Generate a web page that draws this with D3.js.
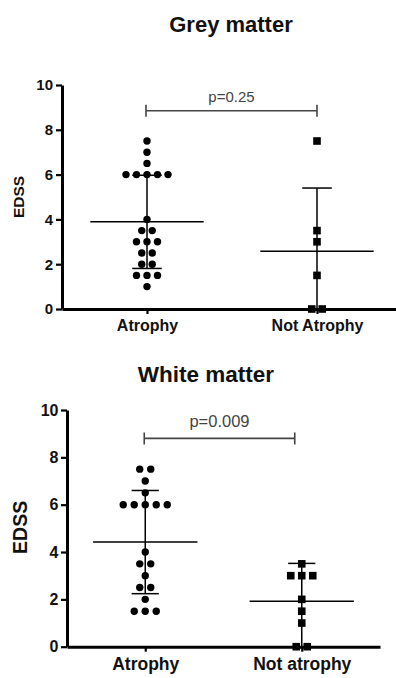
<!DOCTYPE html>
<html>
<head>
<meta charset="utf-8">
<script src="https://cdn.jsdelivr.net/npm/d3@7"></script>
<style>
  body { margin: 0; background: #fff; }
  svg { display: block; }
</style>
</head>
<body>
<div id="chart"></div>
<script>
// categories
const greyGroups = ['Atrophy', 'Not Atrophy'];
const whiteGroups = ['Atrophy', 'Not atrophy'];
const yTicks = [0, 2, 4, 6, 8, 10];

// EDSS values per patient
const greyAtrophy = [7.5, 7, 6.5, 6, 6, 6, 6, 6, 4, 3.5, 3.5, 3, 3, 3, 2.5, 2.5, 2, 2, 1.5, 1.5, 1.5, 1];
const greyNotAtrophy = [7.5, 3.5, 3, 1.5, 0, 0];
const whiteAtrophy = [7.5, 7.5, 7, 6.5, 6, 6, 6, 6, 6, 4, 3.5, 3.5, 3, 2.5, 2.5, 2, 1.5, 1.5, 1.5];
const whiteNotAtrophy = [3.5, 3, 3, 3, 2, 1.5, 1, 0, 0];

// mean and error bar ends
const greyMean = [3.89, 2.58];
const greyLow = [1.81, 0];
const greyHigh = [5.97, 5.4];
const whiteMean = [4.42, 1.92];
const whiteLow = [2.24, 0];
const whiteHigh = [6.6, 3.52];

// significance brackets
const greyP = 'p=0.25';
const whiteP = 'p=0.009';
const greyBracket = 8.85;
const whiteBracket = 8.8;

const W = 396, H = 678;
const svg = d3.select('#chart').append('svg')
  .attr('width', W)
  .attr('height', H)
  .style('font-family', '"Liberation Sans", Arial, sans-serif');

function drawPanel(cfg) {
  const g = svg.append('g');

  const x = d3.scalePoint().domain(cfg.groups).range(cfg.xRange).padding(0.5);
  const y = d3.scaleLinear().domain([0, 10]).range(cfg.yRange);
  const step = x.step();

  // title
  g.append('text')
    .attr('x', cfg.titleX)
    .attr('y', cfg.titleY)
    .attr('text-anchor', 'middle')
    .attr('font-size', cfg.titleSize)
    .attr('font-weight', 'bold')
    .attr('fill', '#111')
    .text(cfg.title);

  // y axis
  const yAxis = g.append('g')
    .attr('transform', `translate(${cfg.xRange[0]},0)`)
    .call(d3.axisLeft(y).tickValues(yTicks).tickSize(6).tickSizeOuter(0).tickPadding(cfg.yPad));
  yAxis.select('.domain').attr('stroke', '#000').attr('stroke-width', 3);
  yAxis.selectAll('.tick line').attr('stroke', '#000').attr('stroke-width', 2.2);
  yAxis.selectAll('.tick text')
    .attr('font-family', '"Liberation Sans", Arial, sans-serif')
    .attr('font-size', cfg.tickSize)
    .attr('font-weight', 'bold')
    .attr('fill', '#111');

  // x axis
  const xAxis = g.append('g')
    .attr('transform', `translate(0,${cfg.yRange[0]})`)
    .call(d3.axisBottom(x).tickSize(5).tickSizeOuter(0).tickPadding(6));
  xAxis.select('.domain').attr('stroke', '#000').attr('stroke-width', 3);
  xAxis.selectAll('.tick line').attr('stroke', '#000').attr('stroke-width', 2.2);
  xAxis.selectAll('.tick text')
    .attr('font-family', '"Liberation Sans", Arial, sans-serif')
    .attr('font-size', cfg.xLabelSize)
    .attr('font-weight', 'bold')
    .attr('fill', '#111');

  // y label
  g.append('text')
    .attr('transform', `translate(${cfg.yLabelX},${(cfg.yRange[0] + cfg.yRange[1]) / 2 + cfg.yLabelShift}) rotate(-90)`)
    .attr('text-anchor', 'middle')
    .attr('font-size', cfg.yLabelSize)
    .attr('font-weight', 'bold')
    .attr('fill', '#111')
    .text('EDSS');

  // error bars + mean lines
  cfg.groups.forEach((grp, i) => {
    const cx = x(grp);
    const lo = Math.max(0, cfg.low[i]);
    g.append('line')
      .attr('x1', cx).attr('x2', cx)
      .attr('y1', y(lo)).attr('y2', y(cfg.high[i]))
      .attr('stroke', '#000').attr('stroke-width', 1.5);
    [cfg.low[i], cfg.high[i]].filter((v) => v > 0).forEach((v) => {
      g.append('line')
        .attr('x1', cx - step * 0.087).attr('x2', cx + step * 0.087)
        .attr('y1', y(v)).attr('y2', y(v))
        .attr('stroke', '#000').attr('stroke-width', 1.5);
    });
    g.append('line')
      .attr('x1', cx - step / 3).attr('x2', cx + step / 3)
      .attr('y1', y(cfg.mean[i])).attr('y2', y(cfg.mean[i]))
      .attr('stroke', '#000').attr('stroke-width', 1.5);
  });

  // points, identical values spread side by side
  cfg.series.forEach((vals, i) => {
    const cx = x(cfg.groups[i]);
    const counts = d3.rollup(vals, (v) => v.length, (d) => d);
    const seen = new Map();
    const pts = vals.map((v) => {
      const k = counts.get(v);
      const j = seen.get(v) || 0;
      seen.set(v, j + 1);
      return { v, px: cx + (j - (k - 1) / 2) * cfg.spread };
    });
    if (i === 0) {
      g.selectAll(null).data(pts).enter().append('circle')
        .attr('cx', (d) => d.px)
        .attr('cy', (d) => y(d.v))
        .attr('r', 3.7)
        .attr('fill', '#000');
    } else {
      g.selectAll(null).data(pts).enter().append('rect')
        .attr('x', (d) => d.px - 3.8)
        .attr('y', (d) => y(d.v) - 3.8)
        .attr('width', 7.6)
        .attr('height', 7.6)
        .attr('fill', '#000');
    }
  });

  // significance bracket
  const bx1 = x(cfg.groups[0]) - 1;
  const bx2 = x(cfg.groups[1]) + cfg.bracketEnd;
  const by = y(cfg.bracket);
  g.append('path')
    .attr('d', `M${bx1},${by - 6}V${by + 6}M${bx1},${by}H${bx2}M${bx2},${by - 6}V${by + 6}`)
    .attr('fill', 'none')
    .attr('stroke', '#444')
    .attr('stroke-width', 1.6);
  g.append('text')
    .attr('x', (bx1 + bx2) / 2)
    .attr('y', by - cfg.pGap)
    .attr('text-anchor', 'middle')
    .attr('font-size', cfg.pSize)
    .attr('fill', '#444')
    .text(cfg.p);
}

drawPanel({
  title: 'Grey matter', titleX: 231, titleY: 32, titleSize: 22,
  groups: greyGroups, series: [greyAtrophy, greyNotAtrophy],
  mean: greyMean, low: greyLow, high: greyHigh,
  xRange: [62, 402], yRange: [309, 85],
  tickSize: 15, yPad: 3, xLabelSize: 16,
  yLabelX: 24, yLabelShift: 0, yLabelSize: 15.5,
  spread: 10.5, bracket: greyBracket, bracketEnd: 0, p: greyP, pSize: 15, pGap: 9
});

drawPanel({
  title: 'White matter', titleX: 206, titleY: 382, titleSize: 22.5,
  groups: whiteGroups, series: [whiteAtrophy, whiteNotAtrophy],
  mean: whiteMean, low: whiteLow, high: whiteHigh,
  xRange: [67, 380], yRange: [646.7, 410],
  tickSize: 16, yPad: 2.5, xLabelSize: 17.5,
  yLabelX: 27, yLabelShift: -1, yLabelSize: 19.5,
  spread: 11, bracket: whiteBracket, bracketEnd: -7, p: whiteP, pSize: 16.5, pGap: 11
});
</script>
</body>
</html>
